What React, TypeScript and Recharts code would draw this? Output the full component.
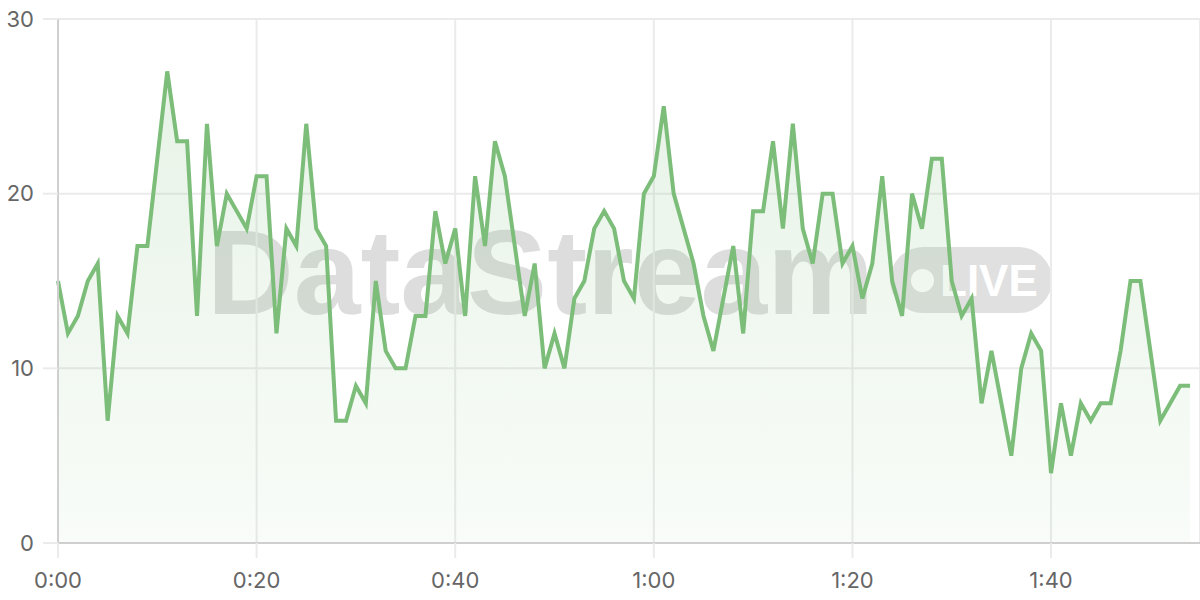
import * as React from 'react';
import { AreaChart, Area, XAxis, YAxis, CartesianGrid } from 'recharts';

// one reading per second, 0:00 .. 1:54
const readings: number[] = [
  15, 12, 13, 15, 16, 7, 13, 12, 17, 17,
  22, 27, 23, 23, 13, 24, 17, 20, 19, 18,
  21, 21, 12, 18, 17, 24, 18, 17, 7, 7,
  9, 8, 15, 11, 10, 10, 13, 13, 19, 16,
  18, 13, 21, 17, 23, 21, 17, 13, 16, 10,
  12, 10, 14, 15, 18, 19, 18, 15, 14, 20,
  21, 25, 20, 18, 16, 13, 11, 14, 17, 12,
  19, 19, 23, 18, 24, 18, 16, 20, 20, 16,
  17, 14, 16, 21, 15, 13, 20, 18, 22, 22,
  15, 13, 14, 8, 11, 8, 5, 10, 12, 11,
  4, 8, 5, 8, 7, 8, 8, 11, 15, 15,
  11, 7, 8, 9, 9,
];

const xTicks = [0, 20, 40, 60, 80, 100];
const yTicks = [0, 10, 20, 30];

const LINE = '#7bbd79';

function formatTime(sec: number): string {
  const m = Math.floor(sec / 60);
  const s = sec % 60;
  return `${m}:${s < 10 ? '0' : ''}${s}`;
}

const chartData = readings.map((value, t) => ({ t, value }));

function Watermark() {
  return (
    <div
      style={{
        position: 'absolute',
        left: 0,
        top: 0,
        width: 1200,
        height: 600,
        pointerEvents: 'none',
        fontFamily: '"Liberation Sans", Arial, sans-serif',
        fontWeight: 700,
      }}
    >
      <div
        style={{
          position: 'absolute',
          left: 207,
          top: 207,
          fontSize: 120,
          lineHeight: '130px',
          color: '#dddddd',
        }}
      >
        DataStream
      </div>
      <div
        style={{
          position: 'absolute',
          left: 890,
          top: 247,
          width: 162,
          height: 66,
          borderRadius: 33,
          background: '#e0e0e0',
        }}
      >
        <div
          style={{
            position: 'absolute',
            left: 21,
            top: 22,
            width: 23,
            height: 23,
            borderRadius: '50%',
            background: '#fff',
          }}
        />
        <div
          style={{
            position: 'absolute',
            left: 50,
            top: 9,
            fontSize: 44,
            lineHeight: '50px',
            color: '#fff',
          }}
        >
          LIVE
        </div>
      </div>
    </div>
  );
}

export default function App() {
  const tickStyle = { fontSize: 22, fill: '#666', fontFamily: 'Inter, "Noto Sans", sans-serif' };
  return (
    <div style={{ position: 'absolute', left: 0, top: 0, width: 1200, height: 600, background: '#fff' }}>
      <Watermark />
      <div style={{ position: 'absolute', left: 0, top: 0 }}>
        <AreaChart width={1200} height={600} data={chartData} margin={{ top: 19, right: 0, bottom: 0, left: 0 }}>
          <defs>
            <linearGradient id="fillGreen" x1="0" y1="0" x2="0" y2="1">
              <stop offset="0%" stopColor={LINE} stopOpacity={0.3} />
              <stop offset="100%" stopColor={LINE} stopOpacity={0.08} />
            </linearGradient>
          </defs>
          <CartesianGrid stroke="#ebebeb" strokeWidth={2} />
          <XAxis
            dataKey="t"
            type="number"
            domain={[0, 115]}
            ticks={xTicks}
            tickFormatter={formatTime}
            height={57}
            tick={tickStyle}
            tickSize={15}
            tickMargin={14}
            tickLine={{ stroke: '#ebebeb', strokeWidth: 2 }}
            axisLine={{ stroke: '#cfcfcf', strokeWidth: 2 }}
          />
          <YAxis
            type="number"
            domain={[0, 30]}
            ticks={yTicks}
            width={58}
            tick={tickStyle}
            tickSize={15}
            tickMargin={9}
            tickLine={{ stroke: '#ebebeb', strokeWidth: 2 }}
            axisLine={{ stroke: '#cfcfcf', strokeWidth: 2 }}
          />
          <Area
            type="linear"
            dataKey="value"
            stroke={LINE}
            strokeWidth={4}
            fill="url(#fillGreen)"
            dot={false}
            activeDot={false}
            isAnimationActive={false}
          />
        </AreaChart>
      </div>
    </div>
  );
}
